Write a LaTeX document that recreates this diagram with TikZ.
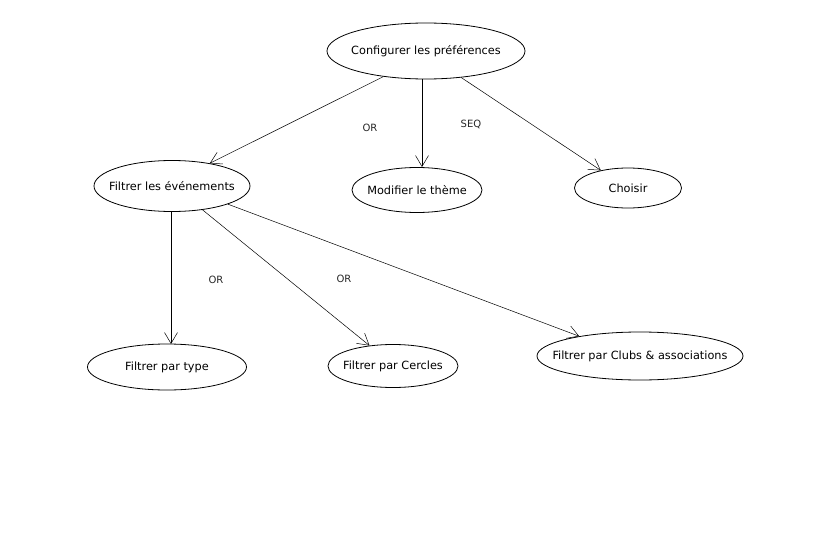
\documentclass[tikz,border=0pt]{standalone}
\usepackage{fontspec}
\setmainfont{DejaVu Sans}
\usetikzlibrary{shapes.geometric,arrows.meta}
% text of zero width, so that the ellipse keeps its given size
\newcommand{\uctext}[1]{\makebox[0pt]{#1}}
\begin{document}
\begin{tikzpicture}[x=1pt,y=-1pt,
  usecase/.style={ellipse,draw,line width=0.8pt,inner sep=0pt,
    font=\fontsize{11.3}{13}\selectfont},
  link/.style={line width=0.5pt,-{Straight Barb[length=11pt,width=13pt,line width=0.5pt]}},
  tag/.style={font=\fontsize{10}{12}\selectfont,text=black!85}]
\useasboundingbox (0,0) rectangle (828,546);

% use cases
\node[usecase,minimum width=198pt,minimum height=56pt] (cfg) at (426,51) {\uctext{Configurer les préférences}};
\node[usecase,minimum width=156pt,minimum height=51pt] (evt) at (172,186) {\uctext{Filtrer les événements}};
\node[usecase,minimum width=130pt,minimum height=45pt] (mod) at (417,190) {\uctext{Modifier le thème}};
\node[usecase,minimum width=107pt,minimum height=40pt] (cho) at (628,188) {\uctext{Choisir}};
\node[usecase,minimum width=159pt,minimum height=46pt] (typ) at (167,367) {\uctext{Filtrer par type}};
\node[usecase,minimum width=130pt,minimum height=43pt] (cer) at (393,366) {\uctext{Filtrer par Cercles}};
\node[usecase,minimum width=206pt,minimum height=48pt] (clu) at (640,356) {\uctext{Filtrer par Clubs \& associations}};

% relations
\coordinate (modtop) at (422,167);
\coordinate (typtop) at (171,344);
\draw[link] (cfg.211) -- (evt.31);
\draw[link] (modtop |- cfg.south) -- (modtop);
\draw[link] (cfg.323) -- (cho.147);
\draw[link] (typtop |- evt.south) -- (typtop);
\draw[link] (evt.322) -- (cer.139);
\draw[link] (evt.342) -- (clu.162);

% labels
\node[tag] (l1) at (370,128) {OR};
\node[tag] (l2) at (471,124) {SEQ};
\node[tag] (l3) at (216,280) {OR};
\node[tag] (l4) at (344,279) {OR};
\end{tikzpicture}
\end{document}
